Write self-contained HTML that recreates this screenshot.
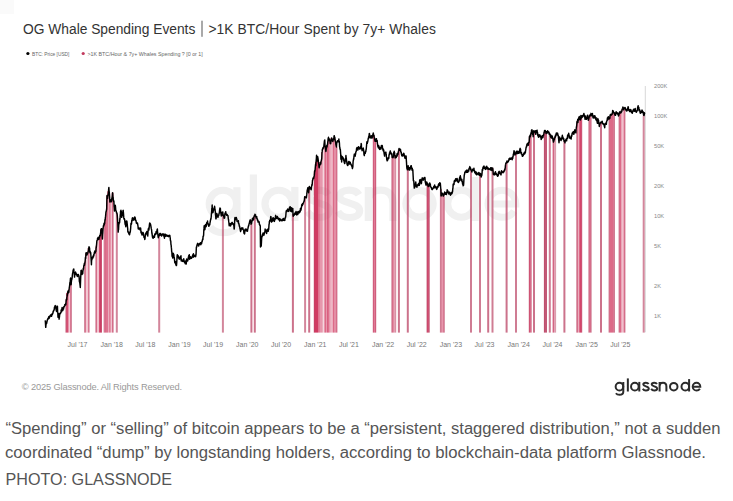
<!DOCTYPE html>
<html><head><meta charset="utf-8">
<style>
html,body{margin:0;padding:0;background:#fff;}
body{width:733px;height:501px;overflow:hidden;position:relative;font-family:"Liberation Sans",sans-serif;}
svg{position:absolute;left:0;top:0;}
</style></head>
<body>
<svg width="733" height="501" viewBox="0 0 733 501" font-family="Liberation Sans, sans-serif">
<defs><g id="lg" fill="none" stroke-width="2"><circle cx="619.45" cy="386.65" r="3.8"/><path d="M623.3,382.0 V391.8 C623.3,394.2 621.6,394.8 619.5,394.8 C617.9,394.8 616.6,394.2 615.9,393.2"/><path d="M627.85,378.4 V391.5"/><circle cx="634.85" cy="386.65" r="3.8"/><path d="M639.3,381.9 V391.5"/><path d="M648.6,384.1 C648.0,383.1 647.0,382.8 645.9,382.8 C644.1999999999999,382.8 643.3,383.6 643.3,384.6 C643.3,386.7 648.8,386.1 648.8,388.6 C648.8,389.8 647.6,390.5 645.9,390.5 C644.5,390.5 643.4,389.9 642.8,388.8"/><path d="M657.0,384.1 C656.4,383.1 655.4,382.8 654.3,382.8 C652.5999999999999,382.8 651.6999999999999,383.6 651.6999999999999,384.6 C651.6999999999999,386.7 657.1999999999999,386.1 657.1999999999999,388.6 C657.1999999999999,389.8 656.0,390.5 654.3,390.5 C652.9,390.5 651.8,389.9 651.1999999999999,388.8"/><path d="M659.6,381.9 V391.5 M659.6,386.2 C659.6,383.6 661.1,382.8 663.0,382.8 C665.1,382.8 666.4,384 666.4,386.4 V391.5"/><circle cx="673.75" cy="386.65" r="3.75"/><circle cx="685.3" cy="386.65" r="3.8"/><path d="M689.1,379.1 V391.5"/><path d="M692.9,386.7 H700.3 C700.3,384.4 698.6,382.85 696.55,382.85 C694.4,382.85 692.7,384.5 692.7,386.65 C692.7,388.8 694.4,390.45 696.55,390.45 C698.0,390.45 699.2,389.8 699.9,388.7"/></g></defs>
<rect x="0" y="0" width="14" height="14" fill="#fafafa"/>
<text x="23.1" y="33.5" font-size="13.8" fill="#333" textLength="172.2" lengthAdjust="spacing">OG Whale Spending Events</text><rect x="201.5" y="20.7" width="1" height="16.1" fill="#555"/><text x="208.4" y="33.5" font-size="13.8" fill="#333" textLength="227.4" lengthAdjust="spacing">&gt;1K BTC/Hour Spent by 7y+ Whales</text>
<circle cx="27.9" cy="53.5" r="1.6" fill="#000"/>
<text x="32" y="55.8" font-size="5.4" fill="#666" textLength="37.4" lengthAdjust="spacingAndGlyphs">BTC: Price [USD]</text>
<circle cx="83.2" cy="53.5" r="1.6" fill="#c23a5e"/>
<text x="87.5" y="55.8" font-size="5.4" fill="#666" textLength="115.3" lengthAdjust="spacingAndGlyphs">&gt;1K BTC/Hour &amp; 7y+ Whales Spending ? [0 or 1]</text>
<use href="#lg" stroke="#f0f0f0" transform="matrix(3.62 0 0 3.55 -2019.43 -1168.83)"/>
<line x1="645.3" y1="86" x2="645.3" y2="332.3" stroke="#d8d8d8" stroke-width="1"/>
<g fill="#b83c5e"><rect x="65" y="298.95" width="1" height="33.65" fill="#b83c5e" fill-opacity="0.42"/><rect x="66" y="292.89" width="1" height="39.71" fill="#c5355c" fill-opacity="0.85"/><rect x="67" y="292.89" width="1" height="39.71" fill="#ce305a" fill-opacity="0.85"/><rect x="68" y="289.14" width="1" height="43.46" fill="#ce305a" fill-opacity="0.51"/><rect x="69" y="289.14" width="1" height="43.46" fill="#ce305a" fill-opacity="0.25"/><rect x="70" y="281.38" width="1" height="51.22" fill="#c5355c" fill-opacity="0.67"/><rect x="71" y="281.38" width="1" height="51.22" fill="#b83c5e" fill-opacity="0.60"/><rect x="84" y="261.49" width="1" height="71.11" fill="#b83c5e" fill-opacity="0.60"/><rect x="85" y="252.95" width="1" height="79.65" fill="#c5355c" fill-opacity="0.67"/><rect x="86" y="252.95" width="1" height="79.65" fill="#ce305a" fill-opacity="0.25"/><rect x="87" y="248.09" width="1" height="84.51" fill="#ce305a" fill-opacity="0.27"/><rect x="88" y="248.09" width="1" height="84.51" fill="#c5355c" fill-opacity="0.67"/><rect x="89" y="248.09" width="1" height="84.51" fill="#b83c5e" fill-opacity="0.40"/><rect x="95" y="245.72" width="1" height="86.88" fill="#b83c5e" fill-opacity="0.43"/><rect x="96" y="245.72" width="1" height="86.88" fill="#c5355c" fill-opacity="0.72"/><rect x="97" y="238.18" width="1" height="94.42" fill="#ce305a" fill-opacity="0.29"/><rect x="98" y="238.18" width="1" height="94.42" fill="#ce305a" fill-opacity="0.30"/><rect x="99" y="235.22" width="1" height="97.38" fill="#ce305a" fill-opacity="0.85"/><rect x="100" y="229.63" width="1" height="102.97" fill="#c5355c" fill-opacity="0.95"/><rect x="101" y="229.63" width="1" height="102.97" fill="#c5355c" fill-opacity="0.86"/><rect x="103" y="223.70" width="1" height="108.90" fill="#c5355c" fill-opacity="0.27"/><rect x="104" y="223.70" width="1" height="108.90" fill="#c5355c" fill-opacity="0.67"/><rect x="105" y="214.50" width="1" height="118.10" fill="#ce305a" fill-opacity="0.72"/><rect x="106" y="195.59" width="1" height="137.01" fill="#ce305a" fill-opacity="0.67"/><rect x="107" y="191.28" width="1" height="141.32" fill="#ce305a" fill-opacity="0.67"/><rect x="108" y="191.28" width="1" height="141.32" fill="#ce305a" fill-opacity="0.40"/><rect x="109" y="191.28" width="1" height="141.32" fill="#ce305a" fill-opacity="0.62"/><rect x="110" y="202.01" width="1" height="130.59" fill="#ce305a" fill-opacity="0.50"/><rect x="111" y="192.70" width="1" height="139.90" fill="#ce305a" fill-opacity="0.29"/><rect x="112" y="192.70" width="1" height="139.90" fill="#c5355c" fill-opacity="0.72"/><rect x="113" y="192.70" width="1" height="139.90" fill="#b83c5e" fill-opacity="0.43"/><rect x="115" y="213.20" width="1" height="119.40" fill="#c5355c" fill-opacity="0.12"/><rect x="116" y="213.20" width="1" height="119.40" fill="#b83c5e" fill-opacity="0.62"/><rect x="117" y="213.20" width="1" height="119.40" fill="#b83c5e" fill-opacity="0.50"/><rect x="158" y="234.84" width="1" height="97.76" fill="#b83c5e" fill-opacity="0.50"/><rect x="159" y="234.84" width="1" height="97.76" fill="#b83c5e" fill-opacity="0.62"/><rect x="160" y="234.84" width="1" height="97.76" fill="#b83c5e" fill-opacity="0.12"/><rect x="221" y="214.30" width="1" height="118.30" fill="#b83c5e" fill-opacity="0.06"/><rect x="222" y="214.30" width="1" height="118.30" fill="#b83c5e" fill-opacity="0.62"/><rect x="223" y="214.30" width="1" height="118.30" fill="#b83c5e" fill-opacity="0.56"/><rect x="250" y="223.72" width="1" height="108.88" fill="#b83c5e" fill-opacity="0.43"/><rect x="251" y="223.72" width="1" height="108.88" fill="#b83c5e" fill-opacity="0.72"/><rect x="252" y="223.72" width="1" height="108.88" fill="#c5355c" fill-opacity="0.29"/><rect x="253" y="215.01" width="1" height="117.59" fill="#ce305a" fill-opacity="0.14"/><rect x="254" y="215.01" width="1" height="117.59" fill="#b83c5e" fill-opacity="0.72"/><rect x="255" y="215.01" width="1" height="117.59" fill="#b83c5e" fill-opacity="0.58"/><rect x="291" y="213.88" width="1" height="118.72" fill="#b83c5e" fill-opacity="0.07"/><rect x="292" y="213.88" width="1" height="118.72" fill="#b83c5e" fill-opacity="0.72"/><rect x="293" y="213.88" width="1" height="118.72" fill="#b83c5e" fill-opacity="0.65"/><rect x="304" y="197.04" width="1" height="135.56" fill="#b83c5e" fill-opacity="0.56"/><rect x="305" y="197.04" width="1" height="135.56" fill="#b83c5e" fill-opacity="0.62"/><rect x="306" y="197.04" width="1" height="135.56" fill="#c5355c" fill-opacity="0.06"/><rect x="308" y="187.07" width="1" height="145.53" fill="#b83c5e" fill-opacity="0.58"/><rect x="309" y="187.07" width="1" height="145.53" fill="#b83c5e" fill-opacity="0.72"/><rect x="310" y="187.07" width="1" height="145.53" fill="#b83c5e" fill-opacity="0.14"/><rect x="313" y="170.66" width="1" height="161.94" fill="#b83c5e" fill-opacity="0.19"/><rect x="314" y="170.66" width="1" height="161.94" fill="#c5355c" fill-opacity="0.95"/><rect x="315" y="162.08" width="1" height="170.52" fill="#ce305a" fill-opacity="0.95"/><rect x="316" y="160.98" width="1" height="171.62" fill="#ce305a" fill-opacity="0.95"/><rect x="317" y="160.98" width="1" height="171.62" fill="#ce305a" fill-opacity="0.95"/><rect x="318" y="160.98" width="1" height="171.62" fill="#ce305a" fill-opacity="0.67"/><rect x="319" y="162.22" width="1" height="170.38" fill="#ce305a" fill-opacity="0.62"/><rect x="320" y="161.27" width="1" height="171.33" fill="#ce305a" fill-opacity="0.50"/><rect x="321" y="151.92" width="1" height="180.68" fill="#ce305a" fill-opacity="0.50"/><rect x="322" y="151.92" width="1" height="180.68" fill="#ce305a" fill-opacity="0.40"/><rect x="323" y="146.89" width="1" height="185.71" fill="#ce305a" fill-opacity="0.20"/><rect x="324" y="146.74" width="1" height="185.86" fill="#ce305a" fill-opacity="0.50"/><rect x="325" y="146.74" width="1" height="185.86" fill="#ce305a" fill-opacity="0.72"/><rect x="326" y="146.74" width="1" height="185.86" fill="#ce305a" fill-opacity="0.50"/><rect x="327" y="141.26" width="1" height="191.34" fill="#ce305a" fill-opacity="0.77"/><rect x="328" y="140.38" width="1" height="192.22" fill="#ce305a" fill-opacity="0.69"/><rect x="329" y="140.38" width="1" height="192.22" fill="#ce305a" fill-opacity="0.50"/><rect x="330" y="137.91" width="1" height="194.69" fill="#ce305a" fill-opacity="0.40"/><rect x="331" y="137.91" width="1" height="194.69" fill="#ce305a" fill-opacity="0.35"/><rect x="332" y="137.91" width="1" height="194.69" fill="#ce305a" fill-opacity="0.40"/><rect x="333" y="139.51" width="1" height="193.09" fill="#ce305a" fill-opacity="0.72"/><rect x="334" y="138.85" width="1" height="193.75" fill="#ce305a" fill-opacity="0.55"/><rect x="335" y="138.85" width="1" height="193.75" fill="#ce305a" fill-opacity="0.55"/><rect x="336" y="146.98" width="1" height="185.62" fill="#c5355c" fill-opacity="0.72"/><rect x="337" y="146.98" width="1" height="185.62" fill="#b83c5e" fill-opacity="0.29"/><rect x="372" y="135.38" width="1" height="197.22" fill="#b83c5e" fill-opacity="0.16"/><rect x="373" y="135.38" width="1" height="197.22" fill="#c5355c" fill-opacity="0.80"/><rect x="374" y="135.38" width="1" height="197.22" fill="#ce305a" fill-opacity="0.64"/><rect x="375" y="140.05" width="1" height="192.55" fill="#c5355c" fill-opacity="0.80"/><rect x="376" y="140.05" width="1" height="192.55" fill="#b83c5e" fill-opacity="0.16"/><rect x="391" y="156.16" width="1" height="176.44" fill="#b83c5e" fill-opacity="0.43"/><rect x="392" y="156.16" width="1" height="176.44" fill="#c5355c" fill-opacity="0.72"/><rect x="393" y="152.45" width="1" height="180.15" fill="#ce305a" fill-opacity="0.57"/><rect x="394" y="152.45" width="1" height="180.15" fill="#c5355c" fill-opacity="0.46"/><rect x="395" y="158.02" width="1" height="174.58" fill="#b83c5e" fill-opacity="0.57"/><rect x="396" y="158.02" width="1" height="174.58" fill="#c5355c" fill-opacity="0.11"/><rect x="397" y="149.49" width="1" height="183.11" fill="#c5355c" fill-opacity="0.07"/><rect x="398" y="149.49" width="1" height="183.11" fill="#b83c5e" fill-opacity="0.72"/><rect x="399" y="149.49" width="1" height="183.11" fill="#b83c5e" fill-opacity="0.65"/><rect x="406" y="167.41" width="1" height="165.19" fill="#b83c5e" fill-opacity="0.14"/><rect x="407" y="167.41" width="1" height="165.19" fill="#b83c5e" fill-opacity="0.72"/><rect x="408" y="167.41" width="1" height="165.19" fill="#b83c5e" fill-opacity="0.58"/><rect x="426" y="184.54" width="1" height="148.06" fill="#b83c5e" fill-opacity="0.36"/><rect x="427" y="184.54" width="1" height="148.06" fill="#c5355c" fill-opacity="0.90"/><rect x="428" y="184.54" width="1" height="148.06" fill="#c5355c" fill-opacity="0.85"/><rect x="429" y="185.74" width="1" height="146.86" fill="#b83c5e" fill-opacity="0.59"/><rect x="439" y="189.28" width="1" height="143.32" fill="#b83c5e" fill-opacity="0.07"/><rect x="440" y="189.28" width="1" height="143.32" fill="#b83c5e" fill-opacity="0.67"/><rect x="441" y="189.28" width="1" height="143.32" fill="#c5355c" fill-opacity="0.60"/><rect x="442" y="193.13" width="1" height="139.47" fill="#ce305a" fill-opacity="0.50"/><rect x="443" y="193.13" width="1" height="139.47" fill="#c5355c" fill-opacity="0.67"/><rect x="444" y="195.29" width="1" height="137.31" fill="#b83c5e" fill-opacity="0.54"/><rect x="470" y="169.51" width="1" height="163.09" fill="#b83c5e" fill-opacity="0.67"/><rect x="471" y="169.51" width="1" height="163.09" fill="#b83c5e" fill-opacity="0.67"/><rect x="479" y="173.50" width="1" height="159.10" fill="#b83c5e" fill-opacity="0.67"/><rect x="480" y="173.50" width="1" height="159.10" fill="#b83c5e" fill-opacity="0.67"/><rect x="487" y="168.51" width="1" height="164.09" fill="#b83c5e" fill-opacity="0.58"/><rect x="488" y="168.51" width="1" height="164.09" fill="#b83c5e" fill-opacity="0.72"/><rect x="489" y="168.51" width="1" height="164.09" fill="#c5355c" fill-opacity="0.14"/><rect x="491" y="167.87" width="1" height="164.73" fill="#b83c5e" fill-opacity="0.33"/><rect x="492" y="167.87" width="1" height="164.73" fill="#b83c5e" fill-opacity="0.67"/><rect x="493" y="167.87" width="1" height="164.73" fill="#b83c5e" fill-opacity="0.33"/><rect x="505" y="162.58" width="1" height="170.02" fill="#b83c5e" fill-opacity="0.29"/><rect x="506" y="162.58" width="1" height="170.02" fill="#b83c5e" fill-opacity="0.72"/><rect x="507" y="162.58" width="1" height="170.02" fill="#b83c5e" fill-opacity="0.43"/><rect x="515" y="152.39" width="1" height="180.21" fill="#b83c5e" fill-opacity="0.67"/><rect x="516" y="152.39" width="1" height="180.21" fill="#b83c5e" fill-opacity="0.67"/><rect x="528" y="136.48" width="1" height="196.12" fill="#b83c5e" fill-opacity="0.17"/><rect x="529" y="136.48" width="1" height="196.12" fill="#c5355c" fill-opacity="0.85"/><rect x="530" y="134.49" width="1" height="198.11" fill="#c5355c" fill-opacity="0.72"/><rect x="531" y="134.49" width="1" height="198.11" fill="#c5355c" fill-opacity="0.50"/><rect x="533" y="132.08" width="1" height="200.52" fill="#b83c5e" fill-opacity="0.72"/><rect x="534" y="132.08" width="1" height="200.52" fill="#b83c5e" fill-opacity="0.72"/><rect x="543" y="131.03" width="1" height="201.57" fill="#b83c5e" fill-opacity="0.09"/><rect x="544" y="131.03" width="1" height="201.57" fill="#b83c5e" fill-opacity="0.90"/><rect x="545" y="131.03" width="1" height="201.57" fill="#b83c5e" fill-opacity="0.85"/><rect x="546" y="133.21" width="1" height="199.39" fill="#b83c5e" fill-opacity="0.85"/><rect x="548" y="134.11" width="1" height="198.49" fill="#c5355c" fill-opacity="0.13"/><rect x="549" y="134.11" width="1" height="198.49" fill="#b83c5e" fill-opacity="0.67"/><rect x="550" y="134.11" width="1" height="198.49" fill="#b83c5e" fill-opacity="0.54"/><rect x="552" y="140.66" width="1" height="191.94" fill="#c5355c" fill-opacity="0.31"/><rect x="553" y="140.66" width="1" height="191.94" fill="#c5355c" fill-opacity="0.77"/><rect x="554" y="136.48" width="1" height="196.12" fill="#c5355c" fill-opacity="0.46"/><rect x="555" y="136.48" width="1" height="196.12" fill="#b83c5e" fill-opacity="0.50"/><rect x="556" y="136.48" width="1" height="196.12" fill="#b83c5e" fill-opacity="0.05"/><rect x="563" y="140.91" width="1" height="191.69" fill="#b83c5e" fill-opacity="0.43"/><rect x="564" y="140.91" width="1" height="191.69" fill="#b83c5e" fill-opacity="0.72"/><rect x="565" y="140.91" width="1" height="191.69" fill="#b83c5e" fill-opacity="0.29"/><rect x="576" y="121.53" width="1" height="211.07" fill="#b83c5e" fill-opacity="0.50"/><rect x="577" y="121.53" width="1" height="211.07" fill="#c5355c" fill-opacity="0.72"/><rect x="578" y="117.48" width="1" height="215.12" fill="#ce305a" fill-opacity="0.40"/><rect x="579" y="117.48" width="1" height="215.12" fill="#ce305a" fill-opacity="0.72"/><rect x="580" y="117.15" width="1" height="215.45" fill="#ce305a" fill-opacity="0.90"/><rect x="581" y="117.15" width="1" height="215.45" fill="#c5355c" fill-opacity="0.85"/><rect x="582" y="117.15" width="1" height="215.45" fill="#b83c5e" fill-opacity="0.17"/><rect x="588" y="115.78" width="1" height="216.82" fill="#b83c5e" fill-opacity="0.43"/><rect x="589" y="114.46" width="1" height="218.14" fill="#c5355c" fill-opacity="0.72"/><rect x="590" y="114.46" width="1" height="218.14" fill="#c5355c" fill-opacity="0.72"/><rect x="591" y="114.46" width="1" height="218.14" fill="#b83c5e" fill-opacity="0.43"/><rect x="600" y="122.10" width="1" height="210.50" fill="#b83c5e" fill-opacity="0.72"/><rect x="601" y="122.10" width="1" height="210.50" fill="#b83c5e" fill-opacity="0.72"/><rect x="608" y="118.72" width="1" height="213.88" fill="#b83c5e" fill-opacity="0.29"/><rect x="609" y="118.72" width="1" height="213.88" fill="#c5355c" fill-opacity="0.72"/><rect x="610" y="115.16" width="1" height="217.44" fill="#ce305a" fill-opacity="0.72"/><rect x="611" y="114.51" width="1" height="218.09" fill="#ce305a" fill-opacity="0.72"/><rect x="612" y="111.19" width="1" height="221.41" fill="#ce305a" fill-opacity="0.72"/><rect x="613" y="111.19" width="1" height="221.41" fill="#c5355c" fill-opacity="0.67"/><rect x="614" y="113.13" width="1" height="219.47" fill="#b83c5e" fill-opacity="0.67"/><rect x="618" y="112.51" width="1" height="220.09" fill="#b83c5e" fill-opacity="0.29"/><rect x="619" y="112.02" width="1" height="220.58" fill="#c5355c" fill-opacity="0.72"/><rect x="620" y="112.02" width="1" height="220.58" fill="#ce305a" fill-opacity="0.72"/><rect x="621" y="109.06" width="1" height="223.54" fill="#ce305a" fill-opacity="0.43"/><rect x="622" y="109.06" width="1" height="223.54" fill="#ce305a" fill-opacity="0.30"/><rect x="623" y="107.85" width="1" height="224.75" fill="#ce305a" fill-opacity="0.43"/><rect x="624" y="107.85" width="1" height="224.75" fill="#c5355c" fill-opacity="0.72"/><rect x="625" y="107.85" width="1" height="224.75" fill="#b83c5e" fill-opacity="0.29"/><rect x="642" y="115.35" width="1" height="217.25" fill="#b83c5e" fill-opacity="0.19"/><rect x="643" y="115.35" width="1" height="217.25" fill="#b83c5e" fill-opacity="0.62"/><rect x="644" y="115.35" width="1" height="217.25" fill="#b83c5e" fill-opacity="0.43"/></g>
<path d="M45.18,320.34L45.36,321.55L45.55,324.65L45.73,327.35L45.92,325.32L46.11,324.09L46.29,323.76L46.48,323.32L46.66,323.29L46.85,322.23L47.03,321.55L47.22,320.14L47.41,320.14L47.59,319.12L47.78,319.20L47.96,318.54L48.15,318.17L48.34,317.77L48.52,318.88L48.71,316.72L48.89,316.80L49.08,316.62L49.26,318.14L49.45,317.99L49.64,316.44L49.82,316.87L50.01,316.28L50.19,315.42L50.38,315.44L50.56,315.14L50.75,314.88L50.94,315.93L51.12,315.33L51.31,315.41L51.49,316.37L51.68,316.00L51.86,314.15L52.05,314.55L52.24,313.55L52.42,314.46L52.61,313.47L52.79,313.54L52.98,312.73L53.17,312.04L53.35,310.95L53.54,310.75L53.72,310.79L53.91,309.93L54.09,310.06L54.28,309.11L54.47,307.13L54.65,308.10L54.84,306.66L55.02,305.90L55.21,305.62L55.39,307.22L55.58,306.45L55.77,305.91L55.95,307.36L56.14,310.31L56.32,310.35L56.51,311.47L56.69,310.52L56.88,310.04L57.07,307.98L57.25,307.39L57.44,306.31L57.62,311.13L57.81,313.00L57.99,317.32L58.18,315.94L58.37,314.86L58.55,313.62L58.74,313.88L58.92,316.23L59.11,319.15L59.30,317.44L59.48,316.93L59.67,314.30L59.85,313.41L60.04,313.96L60.22,313.42L60.41,312.66L60.60,313.25L60.78,312.63L60.97,311.89L61.15,310.08L61.34,310.69L61.52,311.76L61.71,310.79L61.90,308.94L62.08,307.48L62.27,308.08L62.45,307.78L62.64,309.86L62.82,310.49L63.01,308.39L63.20,308.81L63.38,309.03L63.57,308.97L63.75,306.97L63.94,306.51L64.13,307.01L64.31,306.54L64.50,306.13L64.68,305.63L64.87,304.38L65.05,305.28L65.24,304.33L65.43,303.95L65.61,303.46L65.80,304.66L65.98,302.97L66.17,300.76L66.35,299.82L66.54,298.95L66.73,299.71L66.91,296.97L67.10,296.41L67.28,294.20L67.47,295.22L67.65,292.89L67.84,291.70L68.03,291.05L68.21,293.02L68.40,290.89L68.58,291.87L68.77,292.45L68.95,291.04L69.14,289.14L69.33,287.37L69.51,286.26L69.70,284.82L69.88,282.56L70.07,282.60L70.26,281.04L70.44,278.53L70.63,277.98L70.81,281.38L71.00,284.82L71.18,284.26L71.37,281.59L71.56,279.93L71.74,279.83L71.93,278.78L72.11,278.12L72.30,275.75L72.48,274.37L72.67,272.86L72.86,272.46L73.04,270.48L73.23,271.74L73.41,269.31L73.60,270.65L73.78,269.02L73.97,271.65L74.16,272.56L74.34,274.18L74.53,277.08L74.71,275.41L74.90,274.81L75.09,273.96L75.27,272.95L75.46,272.07L75.64,272.10L75.83,273.18L76.01,273.31L76.20,273.57L76.39,274.50L76.57,274.91L76.76,274.73L76.94,275.29L77.13,274.57L77.31,276.55L77.50,275.89L77.69,276.07L77.87,275.61L78.06,274.92L78.24,274.50L78.43,274.48L78.61,276.16L78.80,276.29L78.99,275.85L79.17,277.98L79.36,281.56L79.54,282.01L79.73,282.52L79.91,283.98L80.10,285.68L80.29,287.44L80.47,283.55L80.66,278.47L80.84,274.53L81.03,270.52L81.22,271.72L81.40,270.21L81.59,272.63L81.77,274.14L81.96,274.50L82.14,273.84L82.33,273.20L82.52,272.33L82.70,273.67L82.89,271.18L83.07,270.06L83.26,268.36L83.44,269.14L83.63,267.37L83.82,265.65L84.00,265.49L84.19,264.29L84.37,263.27L84.56,265.24L84.74,263.65L84.93,262.85L85.12,261.49L85.30,259.11L85.49,257.12L85.67,258.44L85.86,254.72L86.05,252.84L86.23,252.65L86.42,254.20L86.60,252.95L86.79,255.06L86.97,254.17L87.16,254.72L87.35,253.27L87.53,253.81L87.72,253.03L87.90,252.04L88.09,252.15L88.27,251.09L88.46,250.31L88.65,248.09L88.83,248.33L89.02,246.84L89.20,246.98L89.39,248.77L89.57,247.95L89.76,251.65L89.95,252.75L90.13,251.34L90.32,252.46L90.50,252.35L90.69,252.65L90.87,255.14L91.06,258.56L91.25,261.27L91.43,264.81L91.62,259.18L91.80,259.92L91.99,259.45L92.18,257.33L92.36,258.10L92.55,256.89L92.73,257.70L92.92,258.04L93.10,255.90L93.29,256.31L93.48,256.89L93.66,254.79L93.85,255.73L94.03,254.05L94.22,253.99L94.40,252.15L94.59,251.65L94.78,251.11L94.96,253.15L95.15,251.33L95.33,252.65L95.52,250.93L95.70,250.88L95.89,251.33L96.08,247.73L96.26,247.88L96.45,245.72L96.63,243.88L96.82,241.18L97.01,240.48L97.19,240.41L97.38,239.65L97.56,238.35L97.75,239.87L97.93,237.74L98.12,238.18L98.31,237.17L98.49,237.34L98.68,238.76L98.86,239.35L99.05,238.91L99.23,237.47L99.42,237.53L99.61,236.88L99.79,235.22L99.98,235.90L100.16,235.04L100.35,235.65L100.53,232.96L100.72,232.91L100.91,229.63L101.09,229.08L101.28,228.73L101.46,229.36L101.65,228.78L101.83,231.32L102.02,233.20L102.21,236.32L102.39,238.91L102.58,234.80L102.76,232.80L102.95,229.67L103.14,227.84L103.32,226.48L103.51,225.38L103.69,226.15L103.88,224.62L104.06,223.32L104.25,224.86L104.44,223.63L104.62,223.70L104.81,221.55L104.99,219.44L105.18,219.96L105.36,217.73L105.55,216.44L105.74,214.50L105.92,212.26L106.11,211.51L106.29,211.18L106.48,209.77L106.66,209.18L106.85,200.98L107.04,195.59L107.22,196.49L107.41,197.04L107.59,198.39L107.78,196.23L107.97,195.79L108.15,194.25L108.34,193.53L108.52,191.28L108.71,188.31L108.89,187.44L109.08,191.00L109.27,192.45L109.45,194.25L109.64,197.34L109.82,202.01L110.01,201.18L110.19,201.59L110.38,201.39L110.57,200.25L110.75,200.24L110.94,199.86L111.12,201.14L111.31,201.79L111.49,200.92L111.68,200.39L111.87,198.13L112.05,197.82L112.24,196.55L112.42,195.11L112.61,192.70L112.80,195.09L112.98,197.48L113.17,198.16L113.35,199.86L113.54,201.29L113.72,200.59L113.91,201.39L114.10,206.46L114.28,207.59L114.47,211.08L114.65,210.69L114.84,209.39L115.02,208.60L115.21,205.28L115.40,205.87L115.58,207.81L115.77,210.50L115.95,210.60L116.14,211.08L116.32,211.53L116.51,212.79L116.70,212.50L116.88,213.20L117.07,213.94L117.25,215.14L117.44,217.60L117.62,220.58L117.81,223.38L118.00,227.75L118.18,232.12L118.37,229.76L118.55,229.73L118.74,225.40L118.93,224.09L119.11,222.56L119.30,223.30L119.48,222.93L119.67,222.05L119.85,218.37L120.04,219.10L120.23,215.57L120.41,213.89L120.60,211.04L120.78,212.35L120.97,210.31L121.15,211.52L121.34,212.34L121.53,215.66L121.71,217.32L121.90,216.13L122.08,215.10L122.27,215.76L122.45,214.30L122.64,213.37L122.83,212.07L123.01,210.66L123.20,210.31L123.38,212.43L123.57,214.65L123.76,217.39L123.94,218.69L124.13,219.20L124.31,218.46L124.50,219.31L124.68,219.62L124.87,221.95L125.06,223.61L125.24,224.62L125.43,223.26L125.61,225.18L125.80,226.79L125.98,224.38L126.17,225.00L126.36,221.06L126.54,221.07L126.73,221.68L126.91,221.24L127.10,223.06L127.28,224.54L127.47,226.73L127.66,228.08L127.84,231.82L128.03,232.12L128.21,231.62L128.40,232.75L128.58,232.75L128.77,233.82L128.96,232.49L129.14,232.37L129.33,234.05L129.51,234.76L129.70,233.79L129.89,232.66L130.07,232.36L130.26,232.12L130.44,230.29L130.63,228.59L130.81,225.69L131.00,223.26L131.19,223.34L131.37,224.31L131.56,223.66L131.74,220.50L131.93,221.06L132.11,219.47L132.30,217.99L132.49,217.96L132.67,217.77L132.86,218.68L133.04,218.03L133.23,220.15L133.41,218.69L133.60,219.74L133.79,219.67L133.97,220.10L134.16,218.88L134.34,219.06L134.53,217.78L134.72,216.88L134.90,217.16L135.09,217.87L135.27,218.31L135.46,219.29L135.64,220.10L135.83,220.94L136.02,220.66L136.20,221.83L136.39,223.11L136.57,223.06L136.76,223.55L136.94,223.06L137.13,223.14L137.32,222.94L137.50,223.06L137.69,224.26L137.87,225.33L138.06,226.77L138.24,228.86L138.43,229.08L138.62,228.65L138.80,228.06L138.99,228.45L139.17,228.84L139.36,228.24L139.54,228.49L139.73,229.13L139.92,229.75L140.10,228.10L140.29,228.76L140.47,227.92L140.66,228.31L140.85,230.70L141.03,232.87L141.22,232.60L141.40,232.75L141.59,231.91L141.77,233.83L141.96,235.00L142.15,234.91L142.33,234.71L142.52,234.04L142.70,233.79L142.89,233.78L143.07,232.50L143.26,233.39L143.45,233.86L143.63,235.45L143.82,235.98L144.00,237.47L144.19,236.46L144.37,237.29L144.56,237.54L144.75,239.47L144.93,238.91L145.12,237.41L145.30,235.10L145.49,234.05L145.68,234.11L145.86,232.88L146.05,233.09L146.23,232.68L146.42,233.40L146.60,233.07L146.79,231.58L146.98,233.10L147.16,234.74L147.35,235.00L147.53,233.54L147.72,236.07L147.90,234.00L148.09,230.72L148.28,229.08L148.46,228.31L148.65,229.07L148.83,229.99L149.02,229.08L149.20,227.10L149.39,225.13L149.58,223.57L149.76,222.90L149.95,223.38L150.13,224.18L150.32,223.74L150.50,224.62L150.69,225.09L150.88,226.24L151.06,227.25L151.25,228.38L151.43,229.08L151.62,229.94L151.81,232.70L151.99,233.76L152.18,234.66L152.36,236.07L152.55,237.44L152.73,236.87L152.92,236.76L153.11,238.33L153.29,237.29L153.48,236.76L153.66,236.20L153.85,236.09L154.03,236.46L154.22,236.48L154.41,237.29L154.59,236.07L154.78,234.10L154.96,234.59L155.15,233.61L155.33,234.62L155.52,233.39L155.71,233.22L155.89,234.18L156.08,231.83L156.26,231.39L156.45,233.29L156.64,231.49L156.82,230.93L157.01,229.79L157.19,231.06L157.38,229.08L157.56,232.42L157.75,233.75L157.94,235.33L158.12,236.76L158.31,237.68L158.49,236.39L158.68,236.04L158.86,236.07L159.05,235.23L159.24,234.84L159.42,233.87L159.61,234.71L159.79,233.54L159.98,235.21L160.16,234.31L160.35,234.48L160.54,233.39L160.72,234.73L160.91,234.45L161.09,234.88L161.28,235.38L161.46,234.73L161.65,236.09L161.84,235.55L162.02,234.33L162.21,234.05L162.39,234.20L162.58,234.29L162.77,234.10L162.95,234.64L163.14,234.05L163.32,233.95L163.51,234.67L163.69,235.47L163.88,236.38L164.07,236.44L164.25,236.76L164.44,238.21L164.62,236.17L164.81,234.70L164.99,234.05L165.18,235.49L165.37,234.42L165.55,234.73L165.74,236.19L165.92,235.38L166.11,235.58L166.29,235.63L166.48,235.02L166.67,234.90L166.85,235.38L167.04,235.52L167.22,236.28L167.41,235.84L167.60,235.89L167.78,235.38L167.97,236.07L168.15,235.70L168.34,236.36L168.52,236.71L168.71,235.81L168.90,235.38L169.08,235.96L169.27,236.25L169.45,235.47L169.64,235.77L169.82,235.38L170.01,236.75L170.20,237.87L170.38,240.05L170.57,241.18L170.75,240.89L170.94,244.48L171.12,244.89L171.31,247.17L171.50,248.79L171.68,251.65L171.87,252.09L172.05,256.13L172.24,256.17L172.42,256.89L172.61,257.26L172.80,258.02L172.98,256.10L173.17,253.30L173.35,253.68L173.54,254.23L173.73,254.28L173.91,255.49L174.10,256.89L174.28,257.64L174.47,259.47L174.65,261.48L174.84,262.85L175.03,262.03L175.21,262.86L175.40,261.59L175.58,261.64L175.77,264.33L175.95,264.32L176.14,265.49L176.33,263.83L176.51,265.49L176.70,262.97L176.88,260.09L177.07,256.50L177.25,254.72L177.44,254.97L177.63,255.89L177.81,255.32L178.00,255.79L178.18,255.90L178.37,256.35L178.56,258.07L178.74,258.02L178.93,257.04L179.11,257.49L179.30,259.18L179.48,258.93L179.67,258.51L179.86,258.82L180.04,257.15L180.23,258.02L180.41,258.02L180.60,256.38L180.78,256.73L180.97,255.79L181.16,260.37L181.34,260.91L181.53,259.81L181.71,259.33L181.90,260.38L182.08,260.37L182.27,261.14L182.46,260.22L182.64,261.14L182.83,261.11L183.01,261.59L183.20,260.16L183.39,260.22L183.57,261.27L183.76,258.83L183.94,260.37L184.13,260.98L184.31,260.99L184.50,262.22L184.69,262.72L184.87,262.25L185.06,262.22L185.24,263.68L185.43,261.00L185.61,261.42L185.80,263.53L185.99,263.85L186.17,264.03L186.36,262.85L186.54,259.77L186.73,258.94L186.91,260.30L187.10,260.07L187.29,260.36L187.47,260.29L187.66,261.13L187.84,260.37L188.03,259.19L188.21,259.18L188.40,256.89L188.59,256.52L188.77,255.78L188.96,255.22L189.14,255.34L189.33,254.72L189.52,258.60L189.70,259.16L189.89,258.18L190.07,258.54L190.26,258.02L190.44,256.80L190.63,257.42L190.82,258.11L191.00,258.39L191.19,258.02L191.37,258.35L191.56,258.30L191.74,257.62L191.93,256.89L192.12,256.89L192.30,256.38L192.49,256.23L192.67,254.92L192.86,257.00L193.04,256.34L193.23,256.11L193.42,253.72L193.60,257.15L193.79,255.88L193.97,255.25L194.16,255.34L194.35,255.57L194.53,255.59L194.72,256.31L194.90,256.34L195.09,255.78L195.27,255.76L195.46,254.93L195.65,256.74L195.83,255.68L196.02,254.72L196.20,250.85L196.39,246.98L196.57,247.27L196.76,246.76L196.95,244.94L197.13,245.42L197.32,244.40L197.50,243.63L197.69,243.27L197.87,243.57L198.06,243.67L198.25,243.84L198.43,244.66L198.62,246.01L198.80,245.24L198.99,244.93L199.17,244.22L199.36,244.65L199.55,243.98L199.73,243.57L199.92,243.15L200.10,244.59L200.29,243.57L200.48,242.78L200.66,244.40L200.85,244.67L201.03,243.95L201.22,244.02L201.40,242.53L201.59,243.57L201.78,242.54L201.96,241.30L202.15,241.76L202.33,240.45L202.52,239.66L202.70,238.95L202.89,239.61L203.08,236.38L203.26,236.08L203.45,236.07L203.63,234.84L203.82,230.30L204.00,228.39L204.19,225.69L204.38,226.67L204.56,228.06L204.75,229.67L204.93,229.51L205.12,227.18L205.31,225.69L205.49,224.52L205.68,226.14L205.86,226.49L206.05,226.75L206.23,225.69L206.42,226.02L206.61,224.17L206.79,222.48L206.98,222.84L207.16,222.55L207.35,222.49L207.53,221.06L207.72,223.34L207.91,223.06L208.09,224.24L208.28,223.96L208.46,224.60L208.65,225.69L208.83,226.27L209.02,226.18L209.21,224.82L209.39,224.64L209.58,224.62L209.76,224.75L209.95,223.00L210.13,222.37L210.32,221.06L210.51,219.99L210.69,219.74L210.88,219.00L211.06,218.23L211.25,216.51L211.44,213.42L211.62,212.26L211.81,208.73L211.99,207.67L212.18,204.94L212.36,211.08L212.55,210.94L212.74,212.72L212.92,212.66L213.11,211.95L213.29,210.76L213.48,210.69L213.66,208.78L213.85,209.53L214.04,208.56L214.22,207.62L214.41,208.21L214.59,206.31L214.78,207.63L214.96,209.50L215.15,210.31L215.34,211.92L215.52,214.99L215.71,216.00L215.89,218.89L216.08,218.69L216.27,216.92L216.45,215.00L216.64,213.47L216.82,214.49L217.01,213.96L217.19,215.46L217.38,216.32L217.57,216.44L217.75,215.92L217.94,217.37L218.12,216.53L218.31,215.87L218.49,215.05L218.68,215.57L218.87,214.77L219.05,213.47L219.24,213.30L219.42,211.86L219.61,210.10L219.79,208.81L219.98,207.98L220.17,210.29L220.35,208.37L220.54,210.69L220.72,212.52L220.91,213.33L221.09,214.54L221.28,216.00L221.47,214.45L221.65,215.47L221.84,215.40L222.02,212.53L222.21,212.26L222.40,212.19L222.58,212.87L222.77,211.86L222.95,214.30L223.14,214.82L223.32,215.57L223.51,215.51L223.70,216.61L223.88,216.26L224.07,218.23L224.25,218.21L224.44,216.56L224.62,217.97L224.81,214.30L225.00,213.35L225.18,213.97L225.37,212.65L225.55,213.06L225.74,211.65L225.92,213.62L226.11,214.09L226.30,214.56L226.48,215.10L226.67,214.72L226.85,215.28L227.04,214.36L227.23,214.90L227.41,214.95L227.60,215.20L227.78,215.14L227.97,215.66L228.15,217.22L228.34,218.96L228.53,219.56L228.71,221.43L228.90,222.55L229.08,225.02L229.27,225.69L229.45,224.15L229.64,224.53L229.83,225.24L230.01,224.09L230.20,223.46L230.38,224.25L230.57,225.95L230.75,223.68L230.94,225.15L231.13,224.37L231.31,223.41L231.50,223.44L231.68,223.19L231.87,222.55L232.05,224.07L232.24,222.41L232.43,223.45L232.61,224.01L232.80,224.09L232.98,223.92L233.17,224.24L233.36,223.88L233.54,224.80L233.73,224.62L233.91,226.04L234.10,229.07L234.28,228.78L234.47,225.60L234.66,221.22L234.84,218.23L235.03,217.53L235.21,219.21L235.40,219.37L235.58,219.62L235.77,218.20L235.96,219.50L236.14,218.49L236.33,217.56L236.51,218.69L236.70,219.37L236.88,219.16L237.07,221.39L237.26,221.55L237.44,221.39L237.63,221.61L237.81,221.46L238.00,221.55L238.19,221.18L238.37,220.71L238.56,223.61L238.74,224.05L238.93,223.72L239.11,224.62L239.30,226.27L239.49,225.88L239.67,226.65L239.86,227.92L240.04,229.12L240.23,229.47L240.41,230.87L240.60,231.55L240.79,229.21L240.97,230.48L241.16,229.28L241.34,228.21L241.53,228.70L241.71,228.63L241.90,227.71L242.09,228.37L242.27,228.49L242.46,229.04L242.64,228.54L242.83,227.96L243.01,229.43L243.20,229.67L243.39,230.01L243.57,229.95L243.76,231.33L243.94,233.17L244.13,230.85L244.32,231.69L244.50,234.05L244.69,233.41L244.87,229.67L245.06,229.75L245.24,229.44L245.43,229.06L245.62,229.34L245.80,230.13L245.99,229.97L246.17,230.84L246.36,229.99L246.54,229.31L246.73,231.02L246.92,231.02L247.10,230.27L247.29,229.99L247.47,231.18L247.66,229.37L247.84,228.78L248.03,228.13L248.22,226.65L248.40,226.76L248.59,225.42L248.77,225.47L248.96,224.44L249.15,223.53L249.33,223.36L249.52,222.19L249.70,221.55L249.89,220.84L250.07,220.38L250.26,219.85L250.45,221.06L250.63,222.09L250.82,222.23L251.00,224.26L251.19,221.25L251.37,223.72L251.56,223.57L251.75,222.43L251.93,220.84L252.12,221.14L252.30,218.92L252.49,218.56L252.67,218.94L252.86,220.35L253.05,218.92L253.23,218.40L253.42,217.41L253.60,219.52L253.79,217.77L253.98,216.59L254.16,216.51L254.35,215.75L254.53,215.57L254.72,215.01L254.90,214.12L255.09,215.10L255.28,214.72L255.46,214.69L255.65,216.34L255.83,216.10L256.02,217.32L256.20,218.11L256.39,217.71L256.58,217.77L256.76,216.70L256.95,217.98L257.13,218.72L257.32,219.77L257.50,219.15L257.69,220.73L257.88,220.93L258.06,222.05L258.25,221.19L258.43,221.47L258.62,221.27L258.80,221.55L258.99,222.30L259.18,221.93L259.36,224.02L259.55,224.86L259.73,225.15L259.92,224.82L260.11,225.83L260.29,226.24L260.48,246.98L260.66,241.18L260.85,243.04L261.03,244.91L261.22,246.10L261.41,243.19L261.59,239.39L261.78,236.76L261.96,235.97L262.15,236.68L262.33,234.89L262.52,234.71L262.71,234.02L262.89,234.40L263.08,233.07L263.26,233.04L263.45,234.45L263.63,235.07L263.82,235.38L264.01,234.10L264.19,233.03L264.38,233.95L264.56,232.75L264.75,231.79L264.94,232.19L265.12,229.08L265.31,230.27L265.49,231.02L265.68,230.07L265.86,231.88L266.05,231.11L266.24,232.12L266.42,230.07L266.61,233.48L266.79,231.52L266.98,230.87L267.16,230.48L267.35,230.95L267.54,231.40L267.72,229.19L267.91,230.81L268.09,230.87L268.28,231.28L268.46,228.44L268.65,229.58L268.84,227.35L269.02,224.52L269.21,223.94L269.39,221.55L269.58,221.32L269.76,220.32L269.95,221.09L270.14,221.06L270.32,220.99L270.51,220.07L270.69,216.67L270.88,216.44L271.07,217.73L271.25,220.82L271.44,222.05L271.62,220.80L271.81,220.50L271.99,219.80L272.18,221.50L272.37,219.15L272.55,219.20L272.74,218.08L272.92,218.02L273.11,217.72L273.29,218.23L273.48,220.72L273.67,219.23L273.85,219.54L274.04,218.50L274.22,221.06L274.41,221.37L274.59,220.45L274.78,219.73L274.97,218.63L275.15,219.24L275.34,218.46L275.52,216.01L275.71,215.35L275.90,218.23L276.08,218.65L276.27,217.63L276.45,218.06L276.64,217.33L276.82,217.80L277.01,218.32L277.20,216.88L277.38,216.38L277.57,217.36L277.75,218.40L277.94,218.17L278.12,218.69L278.31,218.01L278.50,219.64L278.68,219.05L278.87,218.64L279.05,219.15L279.24,218.79L279.42,219.51L279.61,220.94L279.80,218.37L279.98,219.39L280.17,219.22L280.35,219.56L280.54,219.89L280.72,219.56L280.91,219.86L281.10,220.24L281.28,220.75L281.47,220.58L281.65,220.51L281.84,220.10L282.03,220.43L282.21,220.72L282.40,219.17L282.58,220.55L282.77,219.39L282.95,218.92L283.14,220.27L283.33,219.25L283.51,218.50L283.70,219.62L283.88,219.51L284.07,220.29L284.25,219.73L284.44,219.69L284.63,219.86L284.81,220.40L285.00,218.23L285.18,218.25L285.37,217.20L285.55,217.25L285.74,216.44L285.93,214.09L286.11,211.86L286.30,210.90L286.48,210.48L286.67,210.69L286.86,210.37L287.04,211.47L287.23,210.39L287.41,210.46L287.60,209.63L287.78,209.00L287.97,209.47L288.16,209.77L288.34,209.92L288.53,211.40L288.71,210.31L288.90,210.02L289.08,209.23L289.27,209.42L289.46,208.13L289.64,207.16L289.83,207.01L290.01,207.82L290.20,206.75L290.38,211.10L290.57,209.74L290.76,209.95L290.94,211.26L291.13,209.12L291.31,209.93L291.50,207.76L291.68,211.70L291.87,209.55L292.06,209.15L292.24,209.70L292.43,209.37L292.61,208.48L292.80,208.45L292.99,213.88L293.17,216.26L293.36,215.14L293.54,214.39L293.73,214.68L293.91,214.87L294.10,215.26L294.29,214.72L294.47,213.81L294.66,214.27L294.84,213.31L295.03,213.47L295.21,212.66L295.40,214.25L295.59,212.36L295.77,212.02L295.96,211.43L296.14,211.86L296.33,213.57L296.51,213.93L296.70,214.93L296.89,214.12L297.07,214.17L297.26,212.98L297.44,212.07L297.63,214.02L297.82,214.48L298.00,212.66L298.19,212.07L298.37,211.62L298.56,212.18L298.74,212.34L298.93,213.06L299.12,213.07L299.30,212.67L299.49,210.95L299.67,211.88L299.86,210.69L300.04,212.03L300.23,211.32L300.42,208.51L300.60,208.88L300.79,210.31L300.97,209.95L301.16,209.09L301.34,207.44L301.53,207.32L301.72,204.81L301.90,204.94L302.09,204.92L302.27,205.62L302.46,203.67L302.64,204.61L302.83,204.63L303.02,203.57L303.20,203.32L303.39,203.12L303.57,202.19L303.76,202.01L303.95,201.49L304.13,201.32L304.32,200.54L304.50,198.74L304.69,196.69L304.87,197.45L305.06,197.04L305.25,197.15L305.43,196.93L305.62,197.53L305.80,197.10L305.99,197.48L306.17,197.08L306.36,197.85L306.55,195.86L306.73,194.63L306.92,192.76L307.10,191.36L307.29,190.51L307.47,189.05L307.66,188.90L307.85,187.74L308.03,188.17L308.22,187.90L308.40,189.72L308.59,192.70L308.78,190.71L308.96,189.46L309.15,187.07L309.33,186.55L309.52,188.58L309.70,188.83L309.89,188.46L310.08,188.62L310.26,187.78L310.45,188.80L310.63,187.36L310.82,187.59L311.00,189.34L311.19,189.75L311.38,188.21L311.56,186.64L311.75,185.83L311.93,184.42L312.12,185.25L312.30,183.16L312.49,180.21L312.68,180.38L312.86,179.20L313.05,178.10L313.23,178.89L313.42,178.27L313.60,178.48L313.79,177.55L313.98,176.73L314.16,175.96L314.35,174.82L314.53,172.86L314.72,170.66L314.91,171.28L315.09,169.76L315.28,167.61L315.46,165.49L315.65,163.86L315.83,165.62L316.02,162.08L316.21,160.12L316.39,158.24L316.58,155.15L316.76,156.77L316.95,157.77L317.13,160.98L317.32,159.05L317.51,157.12L317.69,156.67L317.88,157.83L318.06,158.73L318.25,160.37L318.43,162.22L318.62,163.42L318.81,164.43L318.99,167.14L319.18,167.75L319.36,166.16L319.55,165.41L319.74,165.08L319.92,165.00L320.11,164.26L320.29,163.50L320.48,162.47L320.66,162.63L320.85,164.02L321.04,161.27L321.22,161.17L321.41,160.22L321.59,159.30L321.78,158.07L321.96,152.91L322.15,151.92L322.34,149.54L322.52,149.01L322.71,149.30L322.89,147.88L323.08,147.71L323.26,148.31L323.45,147.25L323.64,147.01L323.82,146.89L324.01,144.65L324.19,143.11L324.38,141.26L324.57,140.43L324.75,140.03L324.94,144.22L325.12,147.07L325.31,146.74L325.49,149.16L325.68,149.44L325.87,151.43L326.05,150.58L326.24,149.09L326.42,147.91L326.61,145.67L326.79,147.20L326.98,147.16L327.17,146.26L327.35,144.57L327.54,144.54L327.72,142.55L327.91,141.26L328.09,138.83L328.28,138.10L328.47,137.32L328.65,138.52L328.84,139.39L329.02,140.57L329.21,140.38L329.39,140.04L329.58,139.14L329.77,139.43L329.95,140.58L330.14,143.46L330.32,142.68L330.51,143.74L330.70,143.61L330.88,141.58L331.07,141.26L331.25,141.19L331.44,140.04L331.62,137.91L331.81,139.06L332.00,139.99L332.18,140.16L332.37,140.50L332.55,139.51L332.74,141.42L332.92,141.05L333.11,139.33L333.30,139.66L333.48,139.37L333.67,139.54L333.85,138.46L334.04,136.03L334.22,135.72L334.41,136.82L334.60,136.98L334.78,137.18L334.97,138.85L335.15,141.03L335.34,140.87L335.53,141.32L335.71,142.94L335.90,144.65L336.08,145.32L336.27,146.06L336.45,146.98L336.64,143.93L336.83,142.57L337.01,142.04L337.20,141.95L337.38,141.02L337.57,140.83L337.75,140.72L337.94,140.72L338.13,141.19L338.31,141.87L338.50,140.87L338.68,140.38L338.87,139.06L339.05,141.41L339.24,141.34L339.43,143.11L339.61,146.80L339.80,147.14L339.98,149.26L340.17,149.07L340.35,149.52L340.54,152.15L340.73,154.97L340.91,159.18L341.10,155.15L341.28,158.91L341.47,158.25L341.66,161.97L341.84,159.53L342.03,156.75L342.21,156.56L342.40,157.98L342.58,157.05L342.77,157.59L342.96,158.22L343.14,158.83L343.33,158.81L343.51,158.24L343.70,160.35L343.88,159.30L344.07,161.32L344.26,162.49L344.44,162.88L344.63,163.50L344.81,163.34L345.00,161.95L345.18,161.40L345.37,160.98L345.56,159.15L345.74,157.91L345.93,155.58L346.11,157.60L346.30,158.19L346.49,160.61L346.67,161.06L346.86,162.63L347.04,164.01L347.23,164.81L347.41,163.70L347.60,165.48L347.79,164.61L347.97,165.21L348.16,163.41L348.34,163.61L348.53,161.85L348.71,161.59L348.90,162.77L349.09,161.41L349.27,162.35L349.46,164.05L349.64,163.11L349.83,162.58L350.01,163.81L350.20,162.11L350.39,163.11L350.57,164.00L350.76,163.96L350.94,163.96L351.13,164.55L351.31,165.21L351.50,165.15L351.69,166.20L351.87,166.17L352.06,166.45L352.24,167.77L352.43,168.58L352.62,166.68L352.80,167.26L352.99,163.37L353.17,160.95L353.36,160.32L353.54,158.83L353.73,159.30L353.92,156.90L354.10,155.68L354.29,154.28L354.47,154.20L354.66,155.52L354.84,153.95L355.03,155.76L355.22,156.12L355.40,153.18L355.59,154.10L355.77,152.39L355.96,151.85L356.14,151.38L356.33,151.21L356.52,148.72L356.70,148.11L356.89,148.06L357.07,147.44L357.26,148.56L357.45,149.82L357.63,149.75L357.82,150.08L358.00,148.78L358.19,148.28L358.37,147.87L358.56,146.72L358.75,146.80L358.93,147.54L359.12,148.55L359.30,148.88L359.49,148.71L359.67,148.92L359.86,148.61L360.05,148.15L360.23,148.70L360.42,147.11L360.60,147.56L360.79,146.19L360.97,146.58L361.16,143.49L361.35,143.82L361.53,148.88L361.72,148.96L361.90,148.35L362.09,150.67L362.27,149.81L362.46,149.72L362.65,149.29L362.83,150.02L363.02,148.88L363.20,148.06L363.39,148.89L363.58,150.01L363.76,151.00L363.95,154.32L364.13,155.04L364.32,155.62L364.50,153.60L364.69,152.75L364.88,152.82L365.06,152.45L365.25,153.32L365.43,151.54L365.62,151.38L365.80,151.85L365.99,150.03L366.18,149.46L366.36,147.70L366.55,145.47L366.73,143.10L366.92,141.73L367.10,142.28L367.29,143.41L367.48,141.83L367.66,142.20L367.85,140.78L368.03,140.10L368.22,138.37L368.41,138.48L368.59,136.97L368.78,136.45L368.96,136.04L369.15,134.77L369.33,133.38L369.52,134.05L369.71,136.10L369.89,137.75L370.08,136.18L370.26,136.63L370.45,137.24L370.63,137.90L370.82,136.94L371.01,136.90L371.19,135.63L371.38,137.28L371.56,137.25L371.75,137.39L371.93,138.19L372.12,137.04L372.31,137.47L372.49,135.54L372.68,135.29L372.86,134.50L373.05,134.11L373.23,133.07L373.42,133.71L373.61,135.73L373.79,135.38L373.98,135.21L374.16,137.00L374.35,138.19L374.54,137.97L374.72,139.82L374.91,140.49L375.09,141.25L375.28,140.05L375.46,140.01L375.65,140.95L375.84,141.33L376.02,138.87L376.21,138.91L376.39,138.67L376.58,140.26L376.76,140.26L376.95,141.50L377.14,140.41L377.32,142.57L377.51,144.06L377.69,144.87L377.88,146.72L378.06,146.71L378.25,147.74L378.44,145.68L378.62,145.58L378.81,147.48L378.99,146.27L379.18,148.62L379.37,148.91L379.55,149.07L379.74,149.46L379.92,148.94L380.11,148.24L380.29,147.43L380.48,147.99L380.67,148.39L380.85,149.07L381.04,147.60L381.22,147.84L381.41,145.41L381.59,145.84L381.78,145.89L381.97,146.24L382.15,145.50L382.34,146.09L382.52,148.05L382.71,149.01L382.89,149.44L383.08,150.20L383.27,150.93L383.45,149.25L383.64,150.00L383.82,150.63L384.01,152.75L384.20,154.09L384.38,154.78L384.57,156.07L384.75,153.88L384.94,153.47L385.12,152.38L385.31,153.06L385.50,152.93L385.68,152.54L385.87,152.21L386.05,153.47L386.24,154.22L386.42,157.08L386.61,157.55L386.80,160.01L386.98,159.24L387.17,160.89L387.35,159.53L387.54,159.56L387.72,160.06L387.91,158.74L388.10,158.37L388.28,157.61L388.47,158.59L388.65,157.45L388.84,158.22L389.02,154.76L389.21,154.64L389.40,154.09L389.58,152.62L389.77,154.48L389.95,152.29L390.14,151.18L390.33,150.91L390.51,152.15L390.70,152.64L390.88,152.60L391.07,153.26L391.25,153.47L391.44,153.27L391.63,153.82L391.81,155.14L392.00,155.79L392.18,157.33L392.37,156.16L392.55,157.58L392.74,157.68L392.93,157.19L393.11,157.68L393.30,156.17L393.48,153.80L393.67,152.87L393.85,152.45L394.04,152.21L394.23,151.26L394.41,152.34L394.60,152.59L394.78,155.74L394.97,156.33L395.16,158.02L395.34,156.57L395.53,155.99L395.71,156.45L395.90,156.07L396.08,157.53L396.27,157.50L396.46,156.35L396.64,156.56L396.83,155.83L397.01,153.71L397.20,155.94L397.38,153.95L397.57,154.40L397.76,153.17L397.94,154.45L398.13,153.16L398.31,151.76L398.50,151.26L398.68,150.70L398.87,149.49L399.06,148.42L399.24,148.65L399.43,150.24L399.61,150.20L399.80,149.57L399.98,150.18L400.17,149.85L400.36,149.16L400.54,149.67L400.73,151.46L400.91,151.71L401.10,152.86L401.29,152.31L401.47,154.25L401.66,155.09L401.84,155.69L402.03,155.03L402.21,155.81L402.40,154.60L402.59,155.36L402.77,156.07L402.96,154.29L403.14,154.89L403.33,154.20L403.51,155.05L403.70,153.28L403.89,155.56L404.07,153.76L404.26,155.36L404.44,155.45L404.63,155.43L404.81,157.93L405.00,156.83L405.19,158.37L405.37,156.67L405.56,157.33L405.74,156.78L405.93,156.12L406.12,156.03L406.30,159.77L406.49,162.33L406.67,165.49L406.86,167.86L407.04,168.98L407.23,168.78L407.42,169.76L407.60,168.40L407.79,167.41L407.97,166.45L408.16,165.70L408.34,167.91L408.53,167.89L408.72,167.72L408.90,169.46L409.09,170.13L409.27,168.41L409.46,167.68L409.64,170.05L409.83,168.87L410.02,169.21L410.20,168.64L410.39,168.76L410.57,166.44L410.76,167.73L410.94,165.76L411.13,165.90L411.32,165.69L411.50,168.63L411.69,168.15L411.87,168.43L412.06,170.17L412.25,168.29L412.43,169.72L412.62,169.58L412.80,169.61L412.99,173.29L413.17,176.63L413.36,180.78L413.55,180.96L413.73,180.59L413.92,183.09L414.10,186.04L414.29,188.12L414.47,187.48L414.66,187.93L414.85,186.40L415.03,185.90L415.22,186.36L415.40,184.19L415.59,182.76L415.77,181.97L415.96,184.12L416.15,185.89L416.33,185.42L416.52,186.33L416.70,186.92L416.89,187.28L417.08,186.39L417.26,185.06L417.45,185.46L417.63,184.91L417.82,185.03L418.00,185.43L418.19,185.29L418.38,184.19L418.56,183.56L418.75,184.85L418.93,185.46L419.12,185.31L419.30,185.32L419.49,183.84L419.68,179.94L419.86,180.98L420.05,181.11L420.23,179.45L420.42,180.16L420.60,180.59L420.79,181.53L420.98,182.28L421.16,183.79L421.35,183.37L421.53,182.93L421.72,179.53L421.90,180.19L422.09,178.34L422.28,177.87L422.46,180.04L422.65,179.11L422.83,178.88L423.02,178.46L423.21,179.45L423.39,180.07L423.58,178.47L423.76,178.37L423.95,179.00L424.13,178.16L424.32,177.61L424.51,178.50L424.69,178.24L424.88,177.44L425.06,178.80L425.25,182.26L425.43,181.58L425.62,183.62L425.81,184.19L425.99,185.10L426.18,184.05L426.36,182.88L426.55,183.55L426.73,182.01L426.92,182.76L427.11,184.19L427.29,184.83L427.48,183.11L427.66,184.54L427.85,184.63L428.04,185.90L428.22,186.63L428.41,185.44L428.59,185.96L428.78,185.74L428.96,186.33L429.15,185.47L429.34,183.70L429.52,184.31L429.71,182.96L429.89,184.34L430.08,185.37L430.26,183.93L430.45,185.46L430.64,186.39L430.82,186.98L431.01,187.25L431.19,187.22L431.38,187.22L431.56,188.90L431.75,188.82L431.94,189.28L432.12,189.60L432.31,189.36L432.49,189.51L432.68,188.58L432.86,188.28L433.05,188.40L433.24,187.68L433.42,187.30L433.61,187.22L433.79,186.56L433.98,188.14L434.17,186.46L434.35,186.27L434.54,185.25L434.72,185.02L434.91,187.24L435.09,186.94L435.28,186.99L435.47,187.40L435.65,186.74L435.84,187.90L436.02,188.24L436.21,187.14L436.39,187.90L436.58,189.09L436.77,189.40L436.95,187.08L437.14,187.74L437.32,188.12L437.51,187.25L437.69,187.05L437.88,186.28L438.07,187.12L438.25,185.68L438.44,184.57L438.62,185.35L438.81,183.79L439.00,184.19L439.18,183.98L439.37,185.44L439.55,184.76L439.74,182.72L439.92,183.56L440.11,183.62L440.30,183.16L440.48,185.01L440.67,187.57L440.85,189.28L441.04,195.86L441.22,195.91L441.41,195.03L441.60,194.62L441.78,193.18L441.97,193.99L442.15,194.26L442.34,193.13L442.52,193.50L442.71,193.87L442.90,194.69L443.08,195.73L443.27,196.13L443.45,195.56L443.64,195.30L443.82,195.29L444.01,194.25L444.20,193.99L444.38,194.13L444.57,192.04L444.75,192.59L444.94,192.70L445.13,193.10L445.31,194.30L445.50,192.89L445.68,193.23L445.87,192.96L446.05,193.75L446.24,193.74L446.43,194.56L446.61,192.31L446.80,192.70L446.98,192.32L447.17,189.81L447.35,191.42L447.54,190.96L447.73,191.58L447.91,190.83L448.10,192.36L448.28,192.84L448.47,193.47L448.65,193.76L448.84,193.94L449.03,192.30L449.21,192.69L449.40,192.13L449.58,193.47L449.77,193.87L449.96,193.71L450.14,194.55L450.33,193.23L450.51,195.21L450.70,194.25L450.88,193.64L451.07,193.05L451.26,193.73L451.44,192.42L451.63,194.05L451.81,192.26L452.00,193.46L452.18,192.70L452.37,192.26L452.56,191.68L452.74,188.71L452.93,188.58L453.11,185.00L453.30,183.99L453.48,184.55L453.67,184.79L453.86,184.56L454.04,184.40L454.23,181.11L454.41,180.95L454.60,180.40L454.79,180.73L454.97,181.61L455.16,180.64L455.34,180.02L455.53,179.13L455.71,178.63L455.90,180.34L456.09,180.71L456.27,180.21L456.46,180.17L456.64,180.81L456.83,178.89L457.01,178.46L457.20,180.30L457.39,178.90L457.57,180.02L457.76,181.89L457.94,182.08L458.13,181.39L458.31,182.15L458.50,182.55L458.69,181.15L458.87,181.56L459.06,181.36L459.24,181.05L459.43,178.89L459.61,177.82L459.80,177.07L459.99,178.63L460.17,176.55L460.36,175.74L460.54,177.40L460.73,177.81L460.92,180.48L461.10,179.64L461.29,180.20L461.47,179.91L461.66,179.64L461.84,179.31L462.03,181.80L462.22,181.17L462.40,182.54L462.59,184.12L462.77,183.40L462.96,183.62L463.14,185.89L463.33,185.25L463.52,185.46L463.70,183.37L463.89,179.95L464.07,177.80L464.26,175.17L464.44,174.49L464.63,173.86L464.82,172.22L465.00,172.83L465.19,172.33L465.37,171.28L465.56,171.96L465.75,171.48L465.93,171.79L466.12,170.61L466.30,172.07L466.49,171.58L466.67,172.39L466.86,170.08L467.05,170.29L467.23,170.70L467.42,170.52L467.60,171.20L467.79,172.22L467.97,171.68L468.16,170.29L468.35,171.13L468.53,171.24L468.72,171.12L468.90,169.41L469.09,168.85L469.27,168.05L469.46,168.00L469.65,167.34L469.83,166.61L470.02,167.57L470.20,168.64L470.39,167.64L470.57,169.59L470.76,168.69L470.95,169.51L471.13,170.06L471.32,170.37L471.50,170.31L471.69,171.58L471.88,172.07L472.06,170.51L472.25,170.01L472.43,169.90L472.62,169.31L472.80,170.02L472.99,170.43L473.18,170.51L473.36,170.36L473.55,170.55L473.73,170.44L473.92,168.12L474.10,169.99L474.29,170.52L474.48,170.45L474.66,172.26L474.85,172.67L475.03,172.90L475.22,173.19L475.40,172.96L475.59,173.83L475.78,171.68L475.96,172.86L476.15,173.34L476.33,172.10L476.52,174.81L476.71,173.02L476.89,173.23L477.08,173.20L477.26,173.46L477.45,173.34L477.63,174.00L477.82,173.54L478.01,173.39L478.19,174.75L478.38,173.59L478.56,174.62L478.75,172.54L478.93,172.54L479.12,173.29L479.31,174.17L479.49,175.16L479.68,175.01L479.86,175.43L480.05,173.50L480.23,173.55L480.42,174.92L480.61,174.84L480.79,174.07L480.98,176.56L481.16,177.07L481.35,176.17L481.53,176.03L481.72,175.67L481.91,174.39L482.09,172.76L482.28,169.50L482.46,170.82L482.65,170.16L482.84,168.43L483.02,167.29L483.21,167.07L483.39,167.31L483.58,166.56L483.76,167.29L483.95,165.99L484.14,168.45L484.32,167.57L484.51,167.44L484.69,167.78L484.88,167.29L485.06,168.77L485.25,167.57L485.44,168.97L485.62,169.44L485.81,167.24L485.99,167.53L486.18,167.71L486.36,167.14L486.55,168.53L486.74,166.17L486.92,166.95L487.11,167.75L487.29,168.75L487.48,168.14L487.67,168.95L487.85,167.77L488.04,167.98L488.22,168.51L488.41,168.58L488.59,168.32L488.78,169.34L488.97,168.96L489.15,169.13L489.34,169.31L489.52,168.92L489.71,169.44L489.89,169.54L490.08,169.46L490.27,169.60L490.45,170.03L490.64,167.81L490.82,169.18L491.01,169.61L491.19,169.19L491.38,167.64L491.57,168.25L491.75,170.47L491.94,169.17L492.12,168.68L492.31,168.63L492.49,167.87L492.68,168.37L492.87,169.46L493.05,170.88L493.24,173.51L493.42,174.63L493.61,174.59L493.80,173.90L493.98,173.91L494.17,174.50L494.35,174.91L494.54,174.02L494.72,173.64L494.91,172.88L495.10,172.27L495.28,172.37L495.47,171.75L495.65,174.09L495.84,174.50L496.02,173.60L496.21,173.39L496.40,174.79L496.58,173.97L496.77,174.84L496.95,174.69L497.14,174.72L497.32,175.06L497.51,176.23L497.70,175.38L497.88,176.03L498.07,174.61L498.25,175.47L498.44,172.60L498.63,173.51L498.81,171.68L499.00,171.70L499.18,171.38L499.37,172.16L499.55,172.54L499.74,173.10L499.93,173.60L500.11,174.06L500.30,173.62L500.48,174.00L500.67,173.80L500.85,173.02L501.04,174.90L501.23,171.28L501.41,172.86L501.60,170.69L501.78,172.07L501.97,172.11L502.15,171.58L502.34,171.75L502.53,171.93L502.71,172.33L502.90,172.28L503.08,172.85L503.27,172.22L503.45,171.80L503.64,171.67L503.83,171.12L504.01,171.75L504.20,170.77L504.38,170.52L504.57,170.03L504.76,169.15L504.94,170.00L505.13,168.72L505.31,166.87L505.50,164.91L505.68,164.15L505.87,163.16L506.06,163.40L506.24,162.60L506.43,162.88L506.61,162.58L506.80,161.72L506.98,160.98L507.17,162.09L507.36,162.12L507.54,162.40L507.73,161.50L507.91,161.53L508.10,161.59L508.28,161.79L508.47,161.14L508.66,160.13L508.84,159.53L509.03,158.78L509.21,160.00L509.40,159.63L509.59,158.21L509.77,159.33L509.96,158.14L510.14,158.14L510.33,158.05L510.51,158.50L510.70,159.30L510.89,158.60L511.07,158.60L511.26,158.76L511.44,158.20L511.63,159.07L511.81,158.37L512.00,157.51L512.19,159.68L512.37,158.50L512.56,158.36L512.74,158.37L512.93,156.47L513.11,156.55L513.30,154.50L513.49,153.78L513.67,153.64L513.86,152.04L514.04,150.68L514.23,151.46L514.41,152.79L514.60,153.15L514.79,154.51L514.97,155.03L515.16,153.33L515.34,152.94L515.53,153.68L515.72,153.32L515.90,153.91L516.09,152.39L516.27,151.48L516.46,152.05L516.64,151.20L516.83,151.42L517.02,153.48L517.20,152.58L517.39,152.05L517.57,151.16L517.76,153.45L517.94,151.82L518.13,151.46L518.32,152.55L518.50,153.37L518.69,152.32L518.87,153.29L519.06,152.86L519.24,153.00L519.43,151.31L519.62,150.57L519.80,149.64L519.99,148.79L520.17,148.37L520.36,149.15L520.55,149.16L520.73,152.86L520.92,152.98L521.10,153.08L521.29,153.69L521.47,152.52L521.66,153.89L521.85,154.51L522.03,154.90L522.22,155.59L522.40,156.37L522.59,156.34L522.77,156.01L522.96,154.49L523.15,154.96L523.33,155.45L523.52,154.58L523.70,153.68L523.89,153.58L524.07,153.61L524.26,153.06L524.45,152.19L524.63,153.93L524.82,152.61L525.00,152.87L525.19,152.96L525.38,152.81L525.56,150.79L525.75,149.84L525.93,148.70L526.12,147.48L526.30,147.40L526.49,145.98L526.68,146.70L526.86,144.57L527.05,145.34L527.23,143.81L527.42,143.54L527.60,144.30L527.79,144.69L527.98,144.15L528.16,143.01L528.35,145.19L528.53,143.88L528.72,142.43L528.90,142.15L529.09,142.36L529.28,140.19L529.46,136.41L529.65,137.92L529.83,136.48L530.02,135.11L530.20,135.88L530.39,136.46L530.58,135.52L530.76,134.49L530.95,132.84L531.13,132.56L531.32,133.80L531.51,130.12L531.69,130.21L531.88,129.77L532.06,132.12L532.25,130.63L532.43,131.25L532.62,134.47L532.81,133.42L532.99,135.22L533.18,136.76L533.36,132.88L533.55,130.85L533.73,132.82L533.92,132.08L534.11,131.00L534.29,131.55L534.48,131.89L534.66,131.77L534.85,131.06L535.03,131.23L535.22,130.87L535.41,130.69L535.59,133.35L535.78,134.31L535.96,133.30L536.15,132.62L536.34,132.35L536.52,130.45L536.71,131.40L536.89,130.51L537.08,130.19L537.26,132.35L537.45,132.03L537.64,133.33L537.82,135.63L538.01,134.74L538.19,135.82L538.38,136.86L538.56,137.25L538.75,136.91L538.94,135.87L539.12,134.78L539.31,135.39L539.49,136.60L539.68,135.40L539.86,135.42L540.05,135.04L540.24,136.00L540.42,136.95L540.61,136.78L540.79,136.60L540.98,137.75L541.16,139.51L541.35,139.00L541.54,138.49L541.72,136.34L541.91,135.94L542.09,136.00L542.28,135.68L542.47,135.90L542.65,137.46L542.84,137.61L543.02,136.97L543.21,135.26L543.39,135.83L543.58,134.75L543.77,133.91L543.95,132.96L544.14,132.31L544.32,132.16L544.51,130.52L544.69,130.63L544.88,131.03L545.07,130.58L545.25,130.57L545.44,131.15L545.62,131.93L545.81,131.54L545.99,133.21L546.18,133.52L546.37,133.17L546.55,132.51L546.74,133.07L546.92,131.45L547.11,133.12L547.30,131.48L547.48,131.93L547.67,130.81L547.85,131.94L548.04,131.93L548.22,132.40L548.41,131.89L548.60,132.52L548.78,132.02L548.97,133.20L549.15,134.21L549.34,132.98L549.52,133.19L549.71,134.11L549.90,134.03L550.08,134.64L550.27,135.64L550.45,136.60L550.64,136.62L550.82,137.36L551.01,135.15L551.20,137.97L551.38,138.06L551.57,136.11L551.75,136.96L551.94,136.59L552.12,135.97L552.31,136.27L552.50,137.92L552.68,137.63L552.87,139.08L553.05,140.41L553.24,140.72L553.43,142.11L553.61,140.66L553.80,141.34L553.98,140.28L554.17,139.74L554.35,138.23L554.54,139.18L554.73,137.83L554.91,137.61L555.10,136.48L555.28,137.23L555.47,135.05L555.65,135.45L555.84,135.97L556.03,135.24L556.21,133.21L556.40,133.01L556.58,133.93L556.77,133.24L556.95,134.51L557.14,133.25L557.33,134.26L557.51,133.18L557.70,133.52L557.88,135.45L558.07,134.98L558.26,135.73L558.44,137.18L558.63,139.25L558.81,140.85L559.00,142.76L559.18,140.88L559.37,138.80L559.56,136.97L559.74,138.44L559.93,139.84L560.11,138.24L560.30,138.69L560.48,139.50L560.67,139.20L560.86,138.58L561.04,140.54L561.23,139.66L561.41,139.14L561.60,138.85L561.78,138.43L561.97,136.59L562.16,136.19L562.34,135.31L562.53,136.76L562.71,137.70L562.90,137.11L563.08,138.55L563.27,139.17L563.46,138.31L563.64,138.53L563.83,138.99L564.01,141.11L564.20,141.12L564.39,140.91L564.57,141.29L564.76,141.59L564.94,142.84L565.13,141.49L565.31,140.59L565.50,140.97L565.69,139.96L565.87,140.05L566.06,139.20L566.24,140.07L566.43,138.83L566.61,140.83L566.80,139.51L566.99,138.10L567.17,137.85L567.36,138.36L567.54,135.93L567.73,134.91L567.91,135.18L568.10,135.16L568.29,135.77L568.47,135.04L568.66,133.25L568.84,134.18L569.03,135.38L569.22,138.01L569.40,135.86L569.59,137.14L569.77,138.01L569.96,137.68L570.14,137.83L570.33,138.07L570.52,138.52L570.70,138.50L570.89,137.07L571.07,139.05L571.26,137.97L571.44,135.46L571.63,136.43L571.82,135.88L572.00,134.05L572.19,133.11L572.37,132.96L572.56,133.90L572.74,132.17L572.93,133.88L573.12,132.12L573.30,133.14L573.49,131.85L573.67,133.24L573.86,134.36L574.04,133.65L574.23,132.30L574.42,131.03L574.60,130.82L574.79,129.85L574.97,132.02L575.16,131.37L575.35,132.01L575.53,131.79L575.72,131.90L575.90,132.88L576.09,129.06L576.27,128.15L576.46,126.96L576.65,125.75L576.83,124.01L577.02,121.65L577.20,121.21L577.39,121.53L577.57,120.38L577.76,119.35L577.95,122.51L578.13,119.72L578.32,120.34L578.50,120.09L578.69,118.43L578.87,117.48L579.06,118.18L579.25,116.48L579.43,117.34L579.62,117.89L579.80,118.41L579.99,119.67L580.18,119.88L580.36,119.41L580.55,119.62L580.73,117.59L580.92,115.40L581.10,117.33L581.29,117.15L581.48,117.94L581.66,116.57L581.85,115.99L582.03,117.27L582.22,115.88L582.40,117.14L582.59,116.04L582.78,116.25L582.96,115.26L583.15,115.40L583.33,115.77L583.52,114.67L583.70,114.37L583.89,113.43L584.08,115.61L584.26,115.80L584.45,117.01L584.63,116.97L584.82,115.59L585.00,119.18L585.19,116.94L585.38,116.26L585.56,117.59L585.75,117.84L585.93,117.75L586.12,118.37L586.31,119.29L586.49,118.97L586.68,118.23L586.86,117.91L587.05,116.83L587.23,115.88L587.42,115.42L587.61,115.14L587.79,118.00L587.98,118.18L588.16,119.39L588.35,120.23L588.53,119.85L588.72,118.57L588.91,118.46L589.09,117.52L589.28,116.59L589.46,115.78L589.65,116.31L589.83,115.62L590.02,116.01L590.21,115.14L590.39,114.50L590.58,114.46L590.76,114.06L590.95,113.36L591.14,113.88L591.32,115.63L591.51,115.14L591.69,115.46L591.88,115.79L592.06,114.77L592.25,114.97L592.44,113.56L592.62,114.70L592.81,115.40L592.99,117.65L593.18,117.45L593.36,118.02L593.55,117.55L593.74,117.03L593.92,117.31L594.11,116.96L594.29,115.69L594.48,116.97L594.66,117.78L594.85,117.97L595.04,115.95L595.22,117.39L595.41,118.44L595.59,118.00L595.78,119.48L595.97,118.98L596.15,117.68L596.34,120.47L596.52,119.39L596.71,120.29L596.89,121.21L597.08,121.15L597.27,122.76L597.45,123.37L597.64,121.50L597.82,118.55L598.01,120.83L598.19,121.95L598.38,119.80L598.57,120.62L598.75,123.46L598.94,123.41L599.12,124.98L599.31,126.46L599.49,125.25L599.68,125.33L599.87,123.90L600.05,123.57L600.24,122.64L600.42,123.10L600.61,123.05L600.79,122.54L600.98,122.10L601.17,122.79L601.35,122.14L601.54,122.15L601.72,121.69L601.91,121.80L602.10,121.15L602.28,121.56L602.47,123.32L602.65,123.37L602.84,123.22L603.02,123.79L603.21,124.35L603.40,123.65L603.58,124.13L603.77,124.04L603.95,124.35L604.14,125.45L604.32,126.22L604.51,126.13L604.70,127.75L604.88,125.71L605.07,124.02L605.25,123.68L605.44,123.14L605.62,123.29L605.81,123.41L606.00,123.94L606.18,123.57L606.37,124.20L606.55,121.52L606.74,121.11L606.93,120.93L607.11,120.49L607.30,118.97L607.48,117.77L607.67,119.98L607.85,118.37L608.04,117.03L608.23,117.96L608.41,116.65L608.60,119.11L608.78,118.59L608.97,118.60L609.15,118.97L609.34,118.45L609.53,118.72L609.71,118.55L609.90,117.86L610.08,115.15L610.27,114.72L610.45,115.35L610.64,115.16L610.83,114.35L611.01,114.80L611.20,115.15L611.38,114.99L611.57,114.30L611.75,114.51L611.94,114.24L612.13,114.38L612.31,112.93L612.50,112.47L612.68,110.41L612.87,111.19L613.06,112.28L613.24,110.89L613.43,112.49L613.61,112.10L613.80,112.77L613.98,113.13L614.17,113.06L614.36,112.98L614.54,114.05L614.73,112.94L614.91,115.07L615.10,113.79L615.28,114.31L615.47,115.35L615.66,113.82L615.84,114.14L616.03,111.94L616.21,111.74L616.40,112.27L616.58,112.35L616.77,113.28L616.96,113.51L617.14,113.13L617.33,112.91L617.51,113.03L617.70,114.05L617.89,114.52L618.07,113.89L618.26,113.85L618.44,116.03L618.63,115.61L618.81,113.57L619.00,114.87L619.19,112.94L619.37,112.53L619.56,112.51L619.74,111.83L619.93,112.79L620.11,113.02L620.30,113.06L620.49,112.98L620.67,112.02L620.86,112.89L621.04,111.20L621.23,111.87L621.41,112.13L621.60,111.05L621.79,111.35L621.97,110.77L622.16,109.00L622.34,109.06L622.53,108.79L622.71,108.15L622.90,107.03L623.09,107.36L623.27,108.80L623.46,108.85L623.64,109.89L623.83,108.25L624.02,108.22L624.20,108.08L624.39,107.85L624.57,107.73L624.76,108.46L624.94,107.53L625.13,108.30L625.32,107.99L625.50,108.82L625.69,109.64L625.87,109.67L626.06,110.50L626.24,110.58L626.43,109.82L626.62,111.01L626.80,110.06L626.99,110.31L627.17,110.60L627.36,109.29L627.54,108.34L627.73,108.36L627.92,107.83L628.10,106.70L628.29,106.90L628.47,108.70L628.66,110.27L628.85,109.55L629.03,109.67L629.22,109.64L629.40,110.69L629.59,111.50L629.77,110.06L629.96,110.41L630.15,109.48L630.33,110.50L630.52,109.94L630.70,111.16L630.89,111.01L631.07,110.04L631.26,112.01L631.45,112.62L631.63,112.58L631.82,112.65L632.00,112.92L632.19,112.00L632.37,113.25L632.56,111.59L632.75,111.40L632.93,110.76L633.12,110.07L633.30,110.87L633.49,110.35L633.67,109.15L633.86,110.63L634.05,110.11L634.23,111.36L634.42,109.78L634.60,110.16L634.79,109.97L634.98,109.14L635.16,108.42L635.35,109.57L635.53,111.23L635.72,110.81L635.90,110.88L636.09,111.41L636.28,112.26L636.46,112.05L636.65,111.46L636.83,111.32L637.02,111.11L637.20,110.31L637.39,110.44L637.58,107.87L637.76,107.57L637.95,106.16L638.13,105.68L638.32,106.41L638.50,107.01L638.69,107.76L638.88,107.58L639.06,110.62L639.25,110.52L639.43,109.42L639.62,109.85L639.81,110.49L639.99,112.12L640.18,112.58L640.36,113.31L640.55,112.47L640.73,112.34L640.92,111.62L641.11,111.19L641.29,111.86L641.48,112.63L641.66,111.47L641.85,111.02L642.03,110.09L642.22,110.27L642.41,111.87L642.59,111.86L642.78,112.54L642.96,111.51L643.15,111.82L643.33,113.28L643.52,114.67L643.71,115.35L643.89,114.38L644.08,115.44L644.26,114.59L644.45,112.75L644.63,114.01" fill="none" stroke="#000" stroke-width="1.45" stroke-linejoin="round"/>
<g font-size="5.7" fill="#888"><text x="654" y="88.2">200K</text><text x="654" y="118.3">100K</text><text x="654" y="148.4">50K</text><text x="654" y="188.2">20K</text><text x="654" y="218.3">10K</text><text x="654" y="248.4">5K</text><text x="654" y="288.2">2K</text><text x="654" y="318.3">1K</text></g>
<g font-size="7" fill="#777"><text x="77.5" y="346.5" text-anchor="middle">Jul '17</text><text x="111.7" y="346.5" text-anchor="middle">Jan '18</text><text x="145.3" y="346.5" text-anchor="middle">Jul '18</text><text x="179.5" y="346.5" text-anchor="middle">Jan '19</text><text x="213.1" y="346.5" text-anchor="middle">Jul '19</text><text x="247.3" y="346.5" text-anchor="middle">Jan '20</text><text x="281.1" y="346.5" text-anchor="middle">Jul '20</text><text x="315.3" y="346.5" text-anchor="middle">Jan '21</text><text x="348.9" y="346.5" text-anchor="middle">Jul '21</text><text x="383.1" y="346.5" text-anchor="middle">Jan '22</text><text x="416.7" y="346.5" text-anchor="middle">Jul '22</text><text x="450.9" y="346.5" text-anchor="middle">Jan '23</text><text x="484.5" y="346.5" text-anchor="middle">Jul '23</text><text x="518.7" y="346.5" text-anchor="middle">Jan '24</text><text x="552.5" y="346.5" text-anchor="middle">Jul '24</text><text x="586.7" y="346.5" text-anchor="middle">Jan '25</text><text x="620.3" y="346.5" text-anchor="middle">Jul '25</text></g>
<text x="21.8" y="389.6" font-size="9.3" fill="#999" textLength="160.2" lengthAdjust="spacing">© 2025 Glassnode. All Rights Reserved.</text>
<use href="#lg" stroke="#2b2b2b"/>
<text x="5.4" y="434.3" font-size="16" fill="#555" textLength="715" lengthAdjust="spacingAndGlyphs">“Spending” or “selling” of bitcoin appears to be a “persistent, staggered distribution,” not a sudden</text>
<text x="5.0" y="457.9" font-size="16" fill="#555" textLength="701" lengthAdjust="spacingAndGlyphs">coordinated “dump” by longstanding holders, according to blockchain-data platform Glassnode.</text>
<text x="5.6" y="484.8" font-size="16" fill="#555" textLength="166.4" lengthAdjust="spacingAndGlyphs">PHOTO: GLASSNODE</text>
</svg>
</body></html>
